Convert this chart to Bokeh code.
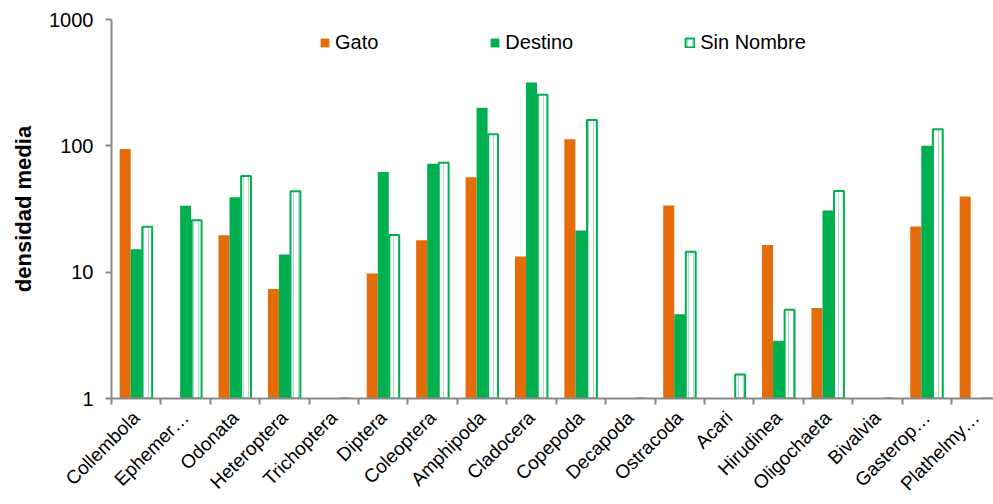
import math
from bokeh.plotting import figure
from bokeh.models import (Range1d, LinearAxis, FixedTicker, Legend, LegendItem,
                          ColumnDataSource)
from bokeh.embed import file_html
from bokeh.resources import INLINE

categories = ["Collembola", "Ephemer…", "Odonata", "Heteroptera", "Trichoptera",
              "Diptera", "Coleoptera", "Amphipoda", "Cladocera", "Copepoda",
              "Decapoda", "Ostracoda", "Acari", "Hirudinea", "Oligochaeta",
              "Bivalvia", "Gasterop…", "Plathelmy…"]
gato = [94.2, 0.97, 19.6, 7.35, None, 9.77, 17.9, 56.3, 13.3, 112.9,
        None, 33.7, 0.97, 16.4, 5.21, 0.97, 23.0, 39.7]
destino = [15.2, 33.5, 39.2, 13.8, 0.98, 62.1, 72.2, 200.0, 317.0, 21.4,
           0.98, 4.64, 0.99, 2.86, 30.8, 0.98, 100.0, None]
sin_nombre = [22.9, 25.8, 57.7, 43.7, 0.99, 19.7, 73.5, 123.7, 253.6, 160.2,
              0.99, 14.5, 1.55, 5.05, 44.0, 0.99, 135.3, 0.99]
y_ticks = [1, 10, 100, 1000]

ORANGE = "#E46C0A"
GREEN = "#00B050"
AXIS = "#898989"
FONT = "Liberation Sans"

n = len(categories)
centers = [i + 0.5 for i in range(n)]
bounds = [float(i) for i in range(n + 1)]


def clean(v):
    return [float("nan") if x is None else x for x in v]


src = ColumnDataSource(dict(
    xg=[c - 0.223 for c in centers],
    xd=[c for c in centers],
    xs=[c + 0.223 for c in centers],
    gato=clean(gato), destino=clean(destino), sin_nombre=clean(sin_nombre),
))

p = figure(width=993, height=504, output_backend="svg", toolbar_location=None,
           x_range=Range1d(0, 17.85), y_range=Range1d(1, 1000),
           y_axis_type="log", x_axis_type=None,
           min_border_left=111, min_border_right=0, min_border_top=19,
           min_border_bottom=104)
p.outline_line_color = None
p.xgrid.visible = False
p.ygrid.visible = False
p.background_fill_color = "white"
p.border_fill_color = "white"

r_g = p.vbar(x="xg", top="gato", bottom=1, width=0.223, source=src,
             fill_color=ORANGE, line_color=None)
r_s = p.vbar(x="xs", top="sin_nombre", bottom=1, width=0.2, source=src,
             fill_color="white", line_color=GREEN, line_width=2,
             hatch_pattern="vertical_line", hatch_color=GREEN,
             hatch_alpha=0.35, hatch_scale=5, hatch_weight=1)
r_d = p.vbar(x="xd", top="destino", bottom=1, width=0.223, source=src,
             fill_color=GREEN, line_color=None)

# y axis
ya = p.yaxis[0]
ya.ticker = FixedTicker(ticks=y_ticks)
ya.major_label_overrides = {t: str(t) for t in y_ticks}
ya.axis_label = "densidad media"
ya.axis_label_text_font = FONT
ya.axis_label_text_font_style = "bold"
ya.axis_label_text_font_size = "22px"
ya.axis_label_text_color = "black"
ya.axis_label_standoff = 10
ya.major_label_text_font = FONT
ya.major_label_text_font_size = "20px"
ya.major_label_text_color = "black"
ya.major_label_standoff = 12
ya.axis_line_color = AXIS
ya.axis_line_width = 2
ya.major_tick_line_color = AXIS
ya.major_tick_line_width = 2
ya.major_tick_out = 6
ya.major_tick_in = 0
ya.minor_tick_line_color = None

# x axis
xa = LinearAxis(ticker=FixedTicker(ticks=centers, minor_ticks=bounds))
xa.major_label_overrides = {c: name for c, name in zip(centers, categories)}
xa.major_label_orientation = math.pi / 4
xa.major_label_text_font = FONT
xa.major_label_text_font_size = "19px"
xa.major_label_text_color = "black"
xa.major_label_standoff = 10
xa.axis_line_color = AXIS
xa.axis_line_width = 2
xa.major_tick_line_color = None
xa.major_tick_out = 0
xa.major_tick_in = 0
xa.minor_tick_line_color = AXIS
xa.minor_tick_line_width = 2
xa.minor_tick_out = 6
xa.minor_tick_in = 0
p.add_layout(xa, "below")

legend = Legend(items=[LegendItem(label="Gato", renderers=[r_g]),
                       LegendItem(label="Destino", renderers=[r_d]),
                       LegendItem(label="Sin Nombre", renderers=[r_s])],
                orientation="horizontal", location=(208, 344),
                spacing=111, label_standoff=5, glyph_width=11, glyph_height=11,
                label_height=20, label_text_font=FONT,
                label_text_font_size="20px", label_text_color="black",
                padding=0, margin=0, border_line_alpha=0,
                background_fill_alpha=0)
p.add_layout(legend)

open("out.html", "w").write(file_html(p, INLINE))
